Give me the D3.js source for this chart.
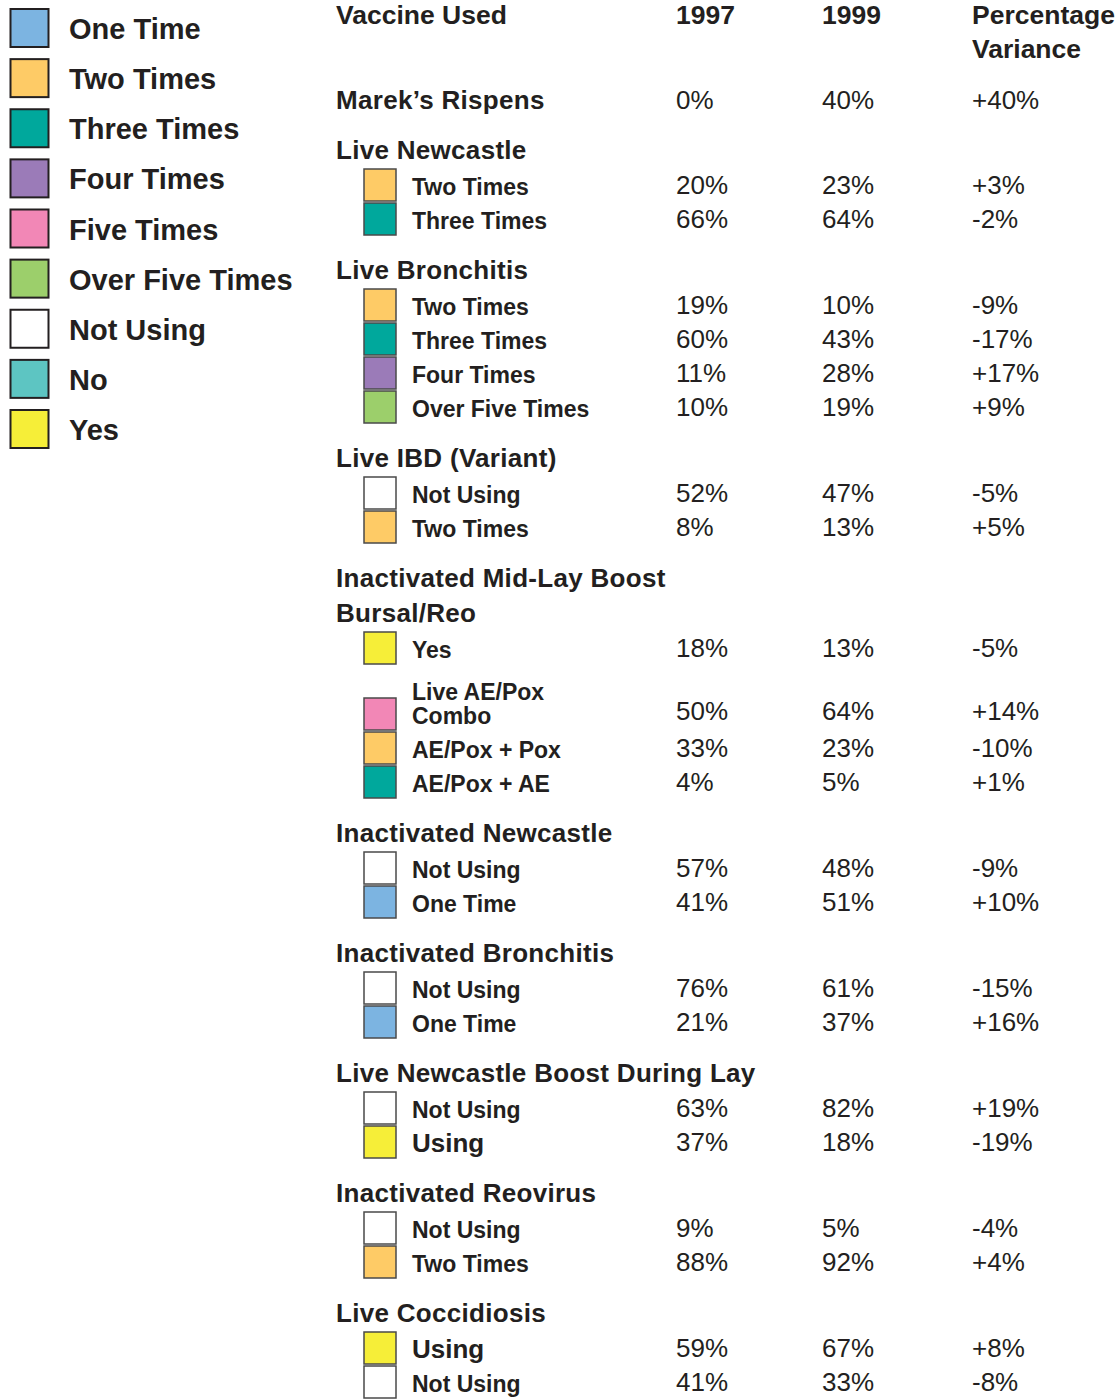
<!DOCTYPE html>
<html>
<head>
<meta charset="utf-8">
<script src="https://cdn.jsdelivr.net/npm/d3@7"></script>
<style>
  body { margin: 0; background: #fff; }
  svg text { font-family: "Liberation Sans", Arial, Helvetica, sans-serif; fill: #231f20; }
</style>
</head>
<body>
<div id="chart"></div>
<script>
// legend categories and their swatch colours
const legendLabels = ["One Time", "Two Times", "Three Times", "Four Times", "Five Times",
  "Over Five Times", "Not Using", "No", "Yes"];
const legendColors = ["#7cb4e1", "#fecb66", "#00a89c", "#9b7bb8", "#f287b6",
  "#9ccf6b", "#ffffff", "#5dc5c2", "#f6ee38"];

// table columns
const columnHeaders = ["Vaccine Used", "1997", "1999", "Percentage\nVariance"];

// vaccine groups (a "\n" splits a header over two lines)
const groups = ["Marek’s Rispens", "Live Newcastle", "Live Bronchitis", "Live IBD (Variant)",
  "Inactivated Mid-Lay Boost\nBursal/Reo", "Inactivated Newcastle", "Inactivated Bronchitis",
  "Live Newcastle Boost During Lay", "Inactivated Reovirus", "Live Coccidiosis"];

// one entry per value row; null label = values sit on the group header line
const itemGroup = [0, 1, 1, 2, 2, 2, 2, 3, 3, 4, 4, 4, 4, 5, 5, 6, 6, 7, 7, 8, 8, 9, 9];
const itemLabels = [null, "Two Times", "Three Times", "Two Times", "Three Times", "Four Times",
  "Over Five Times", "Not Using", "Two Times", "Yes", "Live AE/Pox\nCombo", "AE/Pox + Pox",
  "AE/Pox + AE", "Not Using", "One Time", "Not Using", "One Time", "Not Using", "Using",
  "Not Using", "Two Times", "Using", "Not Using"];
const itemCategory = [null, "Two Times", "Three Times", "Two Times", "Three Times", "Four Times",
  "Over Five Times", "Not Using", "Two Times", "Yes", "Five Times", "Two Times",
  "Three Times", "Not Using", "One Time", "Not Using", "One Time", "Not Using", "Yes",
  "Not Using", "Two Times", "Yes", "Not Using"];
const pct1997 = [0, 20, 66, 19, 60, 11, 10, 52, 8, 18, 50, 33, 4, 57, 41, 76, 21, 63, 37, 9, 88, 59, 41];
const pct1999 = [40, 23, 64, 10, 43, 28, 19, 47, 13, 13, 64, 23, 5, 48, 51, 61, 37, 82, 18, 5, 92, 67, 33];
const variance = [40, 3, -2, -9, -17, 17, 9, -5, 5, -5, 14, -10, 1, -9, 10, -15, 16, 19, -19, -4, 4, 8, -8];

const W = 1118, H = 1399;
const svg = d3.select("#chart").append("svg").attr("width", W).attr("height", H);

const color = d3.scaleOrdinal().domain(legendLabels).range(legendColors);

// ---- legend ----
const ly = d3.scalePoint().domain(legendLabels).range([9, 410]);
const legend = svg.append("g");
legend.selectAll("rect").data(legendLabels).join("rect")
  .attr("x", 10.5).attr("y", (d) => ly(d))
  .attr("width", 38).attr("height", 38)
  .attr("fill", (d) => color(d))
  .attr("stroke", "#231f20").attr("stroke-width", 2);
legend.selectAll("text").data(legendLabels).join("text")
  .attr("x", 69).attr("y", (d) => ly(d) + 30)
  .attr("font-size", "29px").attr("font-weight", "bold")
  .text((d) => d);

// ---- table layout ----
const colX = d3.scaleOrdinal().domain(columnHeaders).range([336, 676, 822, 972]);

const head = svg.append("g").attr("font-weight", "bold").attr("font-size", "26.5px");
columnHeaders.forEach((h) => {
  const t = head.append("text").attr("x", colX(h)).attr("y", 24);
  h.split("\n").forEach((part, k) => {
    t.append("tspan").attr("x", colX(h)).attr("dy", k === 0 ? 0 : 34).text(part);
  });
});

// build the line list in layout units
const lines = [];
let u = 0;
let first = true;
groups.forEach((g, gi) => {
  g.split("\n").forEach((t, li) => {
    if (!first) u += li === 0 ? 50 : 35;
    first = false;
    lines.push({ type: "group", text: t, u });
  });
  const headerU = u;
  let firstItem = true;
  itemGroup.forEach((ig, i) => {
    if (ig !== gi) return;
    if (itemLabels[i] === null) {
      lines.push({ type: "values", i, u: headerU });
      return;
    }
    const parts = itemLabels[i].split("\n");
    u += (firstItem ? 36 : 34) + (parts.length - 1) * 32;
    firstItem = false;
    lines.push({ type: "item", i, parts, u });
  });
});

const y = d3.scaleLinear().domain([0, u]).range([109, 1392]);
const table = svg.append("g");

// group headers
table.selectAll("text.group").data(lines.filter((d) => d.type === "group")).join("text")
  .attr("class", "group")
  .attr("x", colX("Vaccine Used")).attr("y", (d) => y(d.u))
  .attr("font-size", "26px").attr("font-weight", "bold").attr("letter-spacing", "0.3px")
  .text((d) => d.text);

const items = lines.filter((d) => d.type === "item");

// swatches
table.selectAll("rect").data(items).join("rect")
  .attr("x", 364).attr("y", (d) => y(d.u) - 26)
  .attr("width", 32).attr("height", 32)
  .attr("fill", (d) => color(itemCategory[d.i]))
  .attr("stroke", "#4a4a4a").attr("stroke-width", 1.5);

// item labels
table.selectAll("text.item").data(items).join("text")
  .attr("class", "item")
  .attr("x", 412).attr("y", (d) => y(d.u))
  .attr("font-weight", "bold")
  .attr("font-size", (d) => (itemLabels[d.i] === "Using" ? "26px" : "23px"))
  .each(function (d) {
    const t = d3.select(this);
    const n = d.parts.length;
    d.parts.forEach((p, k) => {
      t.append("tspan").attr("x", 412)
        .attr("y", y(d.u) - 24 * (n - 1 - k)).text(p);
    });
  });

// values
const fmtVar = (v) => (v > 0 ? "+" + v : String(v)) + "%";
const valueRows = lines.filter((d) => d.type === "values" || d.type === "item");
const cols = [
  { key: "1997", f: (i) => pct1997[i] + "%" },
  { key: "1999", f: (i) => pct1999[i] + "%" },
  { key: "Percentage\nVariance", f: (i) => fmtVar(variance[i]) },
];
cols.forEach((c) => {
  table.append("g").selectAll("text").data(valueRows).join("text")
    .attr("x", colX(c.key))
    .attr("y", (d) => y(d.u) - (d.type === "values" ? 0 : (d.parts.length > 1 ? 4 : 1)))
    .attr("font-size", "26px")
    .text((d) => c.f(d.i));
});
</script>
</body>
</html>
